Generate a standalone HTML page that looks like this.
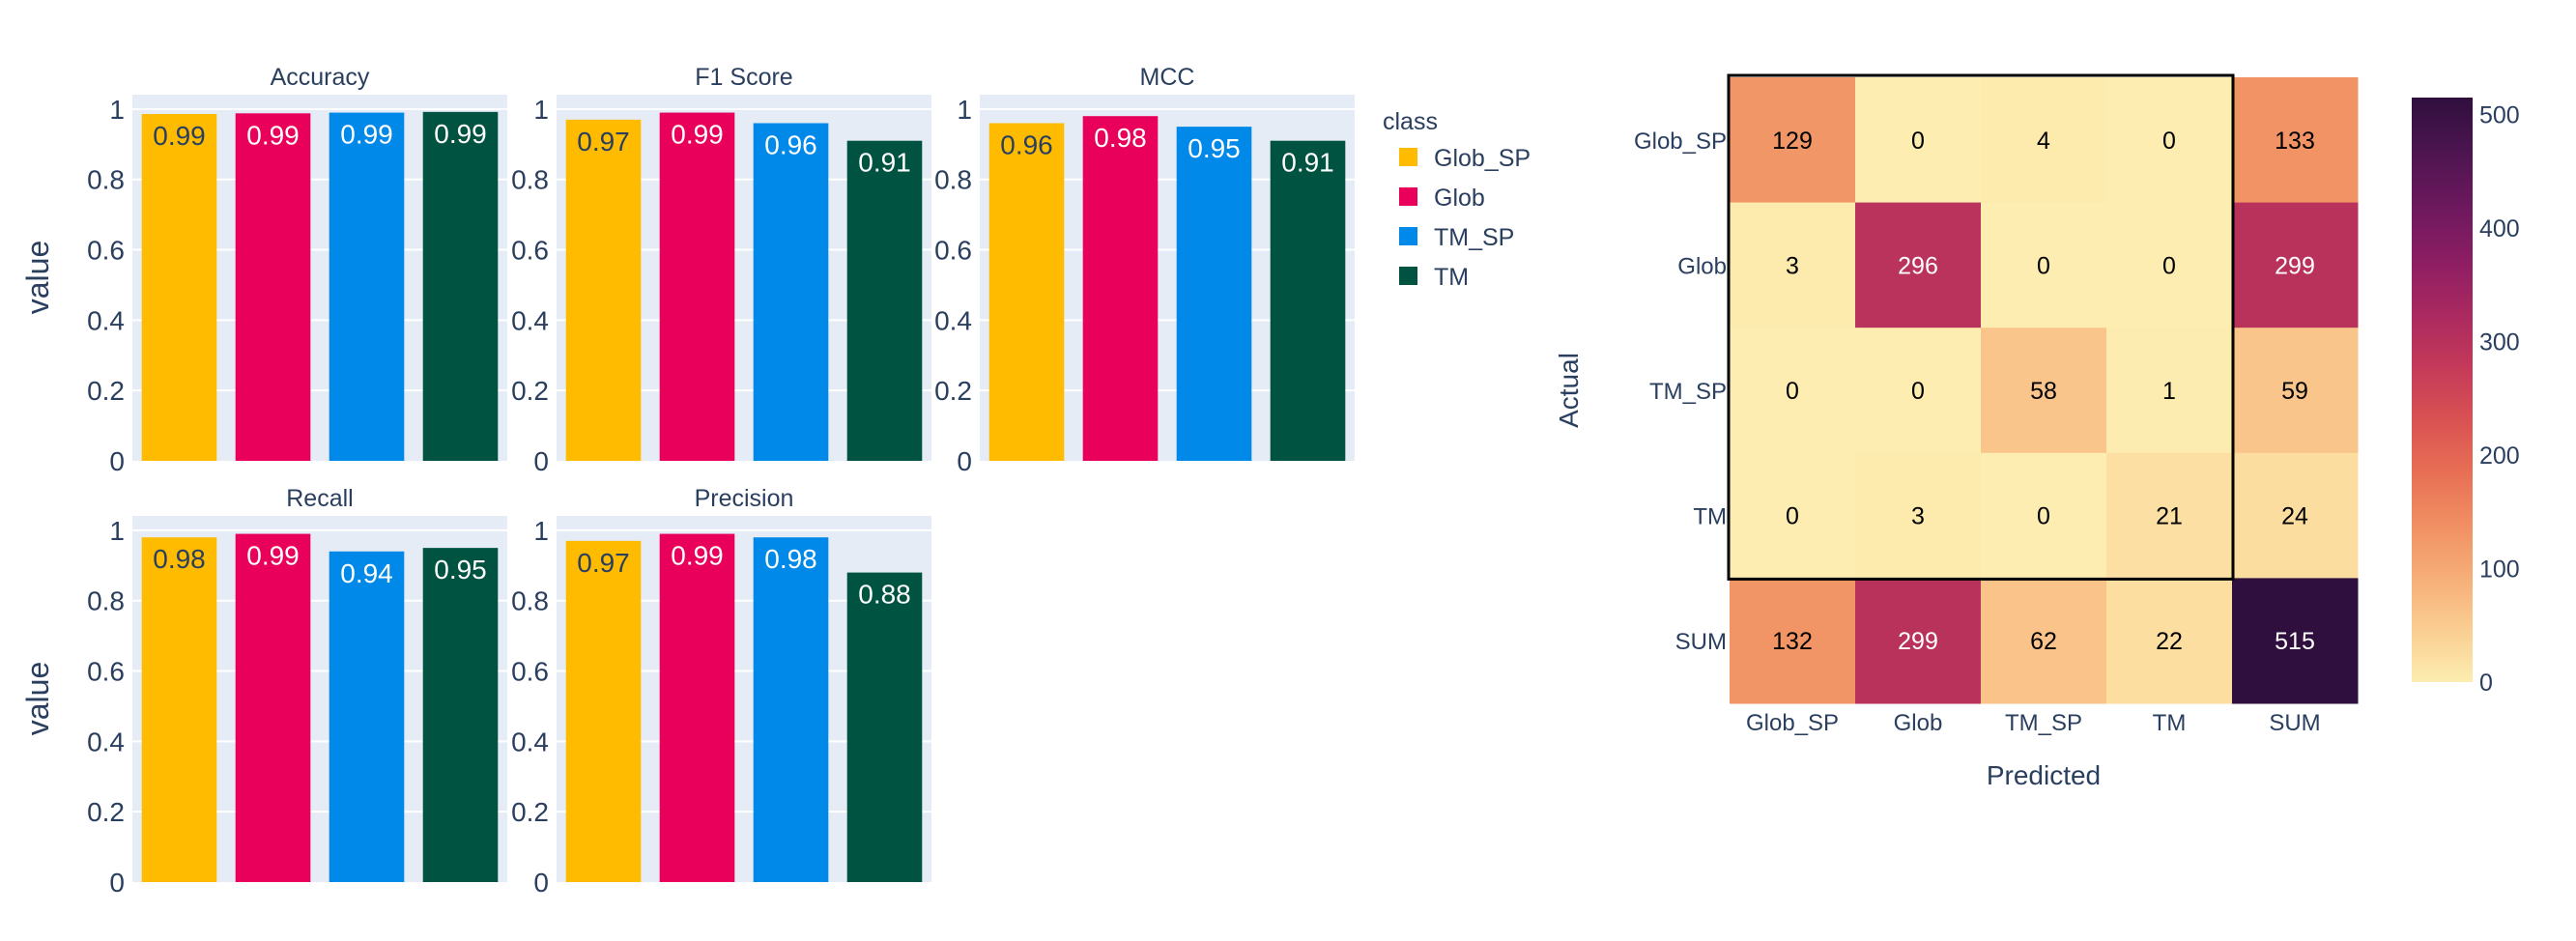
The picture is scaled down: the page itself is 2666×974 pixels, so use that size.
<!DOCTYPE html>
<html><head><meta charset="utf-8">
<style>
html,body{margin:0;padding:0;background:#fff;}
svg{display:block;font-family:"Liberation Sans",sans-serif;}
</style></head>
<body>
<svg id="chart" width="2666" height="974" viewBox="0 0 2666 974" xmlns="http://www.w3.org/2000/svg">
<g id="bars"></g>
<g id="legend"></g>
<g id="heat"></g>
<g id="cbar"></g>
</svg>
<script>
const classes = ["Glob_SP","Glob","TM_SP","TM"];
const classColors = ["#FEBB00","#E8005A","#0089E8","#005241"];
const metrics = ["Accuracy","F1 Score","MCC","Recall","Precision"];
const accuracyVals = [0.986,0.988,0.99,0.992];
const f1Vals = [0.97,0.99,0.96,0.91];
const mccVals = [0.96,0.98,0.95,0.91];
const recallVals = [0.98,0.99,0.94,0.95];
const precisionVals = [0.97,0.99,0.98,0.88];
const accuracyLabels = ["0.99","0.99","0.99","0.99"];
const f1Labels = ["0.97","0.99","0.96","0.91"];
const mccLabels = ["0.96","0.98","0.95","0.91"];
const recallLabels = ["0.98","0.99","0.94","0.95"];
const precisionLabels = ["0.97","0.99","0.98","0.88"];
const yTicks = [0,0.2,0.4,0.6,0.8,1];
const yTickLabels = ["0","0.2","0.4","0.6","0.8","1"];
const cmRows = ["Glob_SP","Glob","TM_SP","TM","SUM"];
const cmCols = ["Glob_SP","Glob","TM_SP","TM","SUM"];
const cmVals = [
 [129,0,4,0,133],
 [3,296,0,0,299],
 [0,0,58,1,59],
 [0,3,0,21,24],
 [132,299,62,22,515]];
const cbTicks = [0,100,200,300,400,500];

const NS="http://www.w3.org/2000/svg";
function mk(tag,attrs,parent,text){const e=document.createElementNS(NS,tag);for(const k in attrs)e.setAttribute(k,attrs[k]);if(text!==undefined)e.textContent=text;parent.appendChild(e);return e;}
const TXT="#2a3f5f";

const allVals=[accuracyVals,f1Vals,mccVals,recallVals,precisionVals];
const allLabels=[accuracyLabels,f1Labels,mccLabels,recallLabels,precisionLabels];
const panelX=[137,576,1014,137,576];
const panelTop=[98,98,98,534,534];
const PW=388, YMAX=1.041, PH=379;
const bars=document.getElementById('bars');
metrics.forEach((m,p)=>{
  const x0=panelX[p], top=panelTop[p], bottom=top+PH;
  const ys=v=>bottom-v/YMAX*PH;
  const xs=i=>x0+PW/classes.length*(i+0.5);
  const g=mk('g',{},bars);
  
  
  const bg=mk('rect',{x:x0,y:top,width:PW,height:PH,fill:'#E5ECF6'},g);
  
  
  yTicks.forEach((t,i)=>{
    if(t>0){const gl=mk('line',{x1:x0,x2:x0+PW,y1:ys(t),y2:ys(t),stroke:'#fff','stroke-width':2},g);
    
    }
    const tl=mk('text',{x:x0-8,y:ys(t)+10,'text-anchor':'end','font-size':28,fill:TXT},g,yTickLabels[i]);
    
    
  });
  const tt=mk('text',{x:x0+PW/2,y:top-10,'text-anchor':'middle','font-size':25,fill:TXT},g,m);
  
  
  const vals=allVals[p], labs=allLabels[p];
  const bw=PW/classes.length*0.8;
  vals.forEach((v,i)=>{
    const r=mk('rect',{x:xs(i)-bw/2,y:ys(v),width:bw,height:bottom-ys(v),fill:classColors[i]},g);
    
    
    const t=mk('text',{x:xs(i),y:ys(v)+32,'text-anchor':'middle','font-size':28,fill:i===0?'#2a3f5f':'#fff'},g,labs[i]);
    
    
  });
});
[[287,'value'],[723,'value']].forEach(([cy,s])=>{
  const t=mk('text',{x:0,y:0,transform:`translate(50,${cy}) rotate(-90)`,'text-anchor':'middle','font-size':32,fill:TXT},bars,s);
  
  
});

const leg=document.getElementById('legend');
const lt=mk('text',{x:1431,y:134,'font-size':25,fill:TXT},leg,'class');


classes.forEach((c,i)=>{
  const y=163+41*i;
  const g=mk('g',{},leg);
  
  
  mk('rect',{x:1448,y:y-10,width:19,height:19,fill:classColors[i]},g);
  mk('text',{x:1484,y:y+9,'font-size':25,fill:TXT},g,c);
});

// heatmap
const stops=[[253,237,176],[250,205,145],[246,173,119],[240,142,98],[231,109,84],[216,80,83],[195,56,90],[168,40,96],[138,29,99],[107,24,93],[76,21,80],[47,15,61]];
const ZMAX=515;
function cmap(v){let t=Math.max(0,Math.min(1,v/ZMAX))*(stops.length-1);const i=Math.min(Math.floor(t),stops.length-2);const f=t-i;const c=stops[i].map((a,k)=>Math.round(a+(stops[i+1][k]-a)*f));return `rgb(${c})`;}
const heat=document.getElementById('heat');
const HX=1790,HY=80,CW=130,CH=129.6;
const hx=j=>HX+CW*j, hy=i=>HY+CH*i;
cmVals.forEach((row,i)=>row.forEach((v,j)=>{
  const r=mk('rect',{x:hx(j),y:hy(i),width:CW+0.5,height:CH+0.5,fill:cmap(v)},heat);
  
  
  const t=mk('text',{x:hx(j)+CW/2,y:hy(i)+CH/2+9,'text-anchor':'middle','font-size':25,fill:v>250?'#fff':'#000'},heat,String(v));
  
  
}));
const box=mk('rect',{x:hx(0)-1,y:hy(0)-2,width:CW*4+2,height:CH*4+3,fill:'none',stroke:'#000','stroke-width':3},heat);


cmRows.forEach((s,i)=>{
  const t=mk('text',{x:HX-3,y:hy(i)+CH/2+9,'text-anchor':'end','font-size':24,fill:TXT},heat,s);
  
  
});
cmCols.forEach((s,j)=>{
  const t=mk('text',{x:hx(j)+CW/2,y:756,'text-anchor':'middle','font-size':24,fill:TXT},heat,s);
  
  
});
const xt=mk('text',{x:2115,y:812,'text-anchor':'middle','font-size':28,fill:TXT},heat,'Predicted');


const yt=mk('text',{x:0,y:0,transform:'translate(1633,404) rotate(-90)','text-anchor':'middle','font-size':28,fill:TXT},heat,'Actual');



// colorbar
const cb=document.getElementById('cbar');
const defs=mk('defs',{},cb);
const lg=mk('linearGradient',{id:'cg',x1:0,y1:1,x2:0,y2:0},defs);
stops.forEach((s,i)=>mk('stop',{offset:i/(stops.length-1),'stop-color':`rgb(${s})`},lg));
const CB0=706, CBT=101;
const cy=v=>CB0-(CB0-CBT)*v/ZMAX;
const cr=mk('rect',{x:2496,y:CBT,width:63,height:CB0-CBT,fill:'url(#cg)'},cb);


cbTicks.forEach(v=>{
  const t=mk('text',{x:2566,y:cy(v)+9,'font-size':25,fill:TXT},cb,String(v));
  
  
});
</script>
</body></html>
